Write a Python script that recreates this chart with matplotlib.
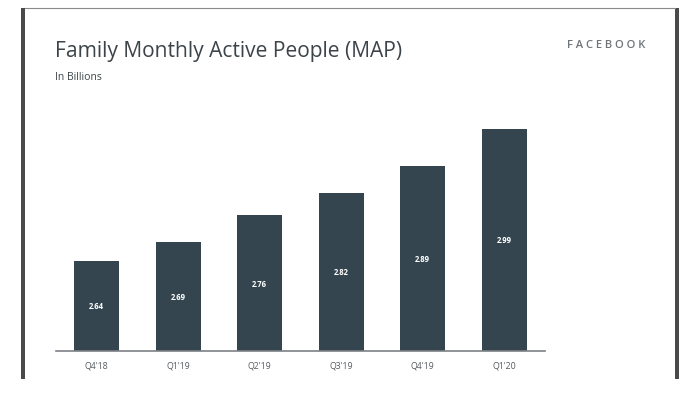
import matplotlib.pyplot as plt
from matplotlib.patches import Rectangle
from matplotlib.lines import Line2D

# Data
quarters = ["Q4'18", "Q1'19", "Q2'19", "Q3'19", "Q4'19", "Q1'20"]
map_billions = [2.64, 2.69, 2.76, 2.82, 2.89, 2.99]
value_labels = ['2.64', '2.69', '2.76', '2.82', '2.89', '2.99']

W, H = 693, 402
fig = plt.figure(figsize=(W / 100, H / 100), dpi=100)
fig.patch.set_facecolor('white')

# Slide frame
fig.add_artist(Rectangle((21 / W, 1 - 380 / H), 4 / W, 371 / H,
                         transform=fig.transFigure, color='#4a4a4a', lw=0))
fig.add_artist(Rectangle((675 / W, 1 - 380 / H), 4 / W, 371 / H,
                         transform=fig.transFigure, color='#4a4a4a', lw=0))
fig.add_artist(Line2D([25 / W, 675 / W], [1 - 9 / H, 1 - 9 / H],
                      transform=fig.transFigure, color='#8a8a8a', lw=0.8))

# Titles
fig.text(55 / W, 1 - 52 / H, 'Family Monthly Active People (MAP)',
         fontsize=15.1, color='#3c4449', family='Open Sans', va='center')
fig.text(55 / W, 1 - 77 / H, 'In Billions', fontsize=7.5, color='#3c4449',
         family='Open Sans', va='center')
fig.text(645 / W, 1 - 45 / H, 'F A C E B O O K', fontsize=8, color='#6f7478',
         family='Open Sans', fontweight='semibold', va='center', ha='right')

# Chart
ax = fig.add_axes([56 / W, 1 - 352 / H, 489 / W, 252 / H])
x = range(len(quarters))
ax.bar(x, [v - 2.4 for v in map_billions], bottom=2.4, width=0.55,
       color='#34454f')
for i, (v, lab) in enumerate(zip(map_billions, value_labels)):
    ax.text(i, (2.4 + v) / 2, lab, ha='center', va='center', color='white',
            fontsize=5.5, fontweight='bold', family='Open Sans')

ax.set_xlim(-0.5, 5.5)
ax.set_ylim(2.4, 2.4 + 252 / 377)
ax.set_xticks(list(x))
ax.set_xticklabels(quarters, fontsize=6.3, color='#555b60', family='Open Sans')
ax.tick_params(axis='x', length=0, pad=7)
ax.set_yticks([])
for s in ['top', 'left', 'right']:
    ax.spines[s].set_visible(False)
ax.spines['bottom'].set_color('#7d8286')
ax.spines['bottom'].set_linewidth(1.2)
ax.set_facecolor('none')

fig.savefig('out.png', dpi=100)
